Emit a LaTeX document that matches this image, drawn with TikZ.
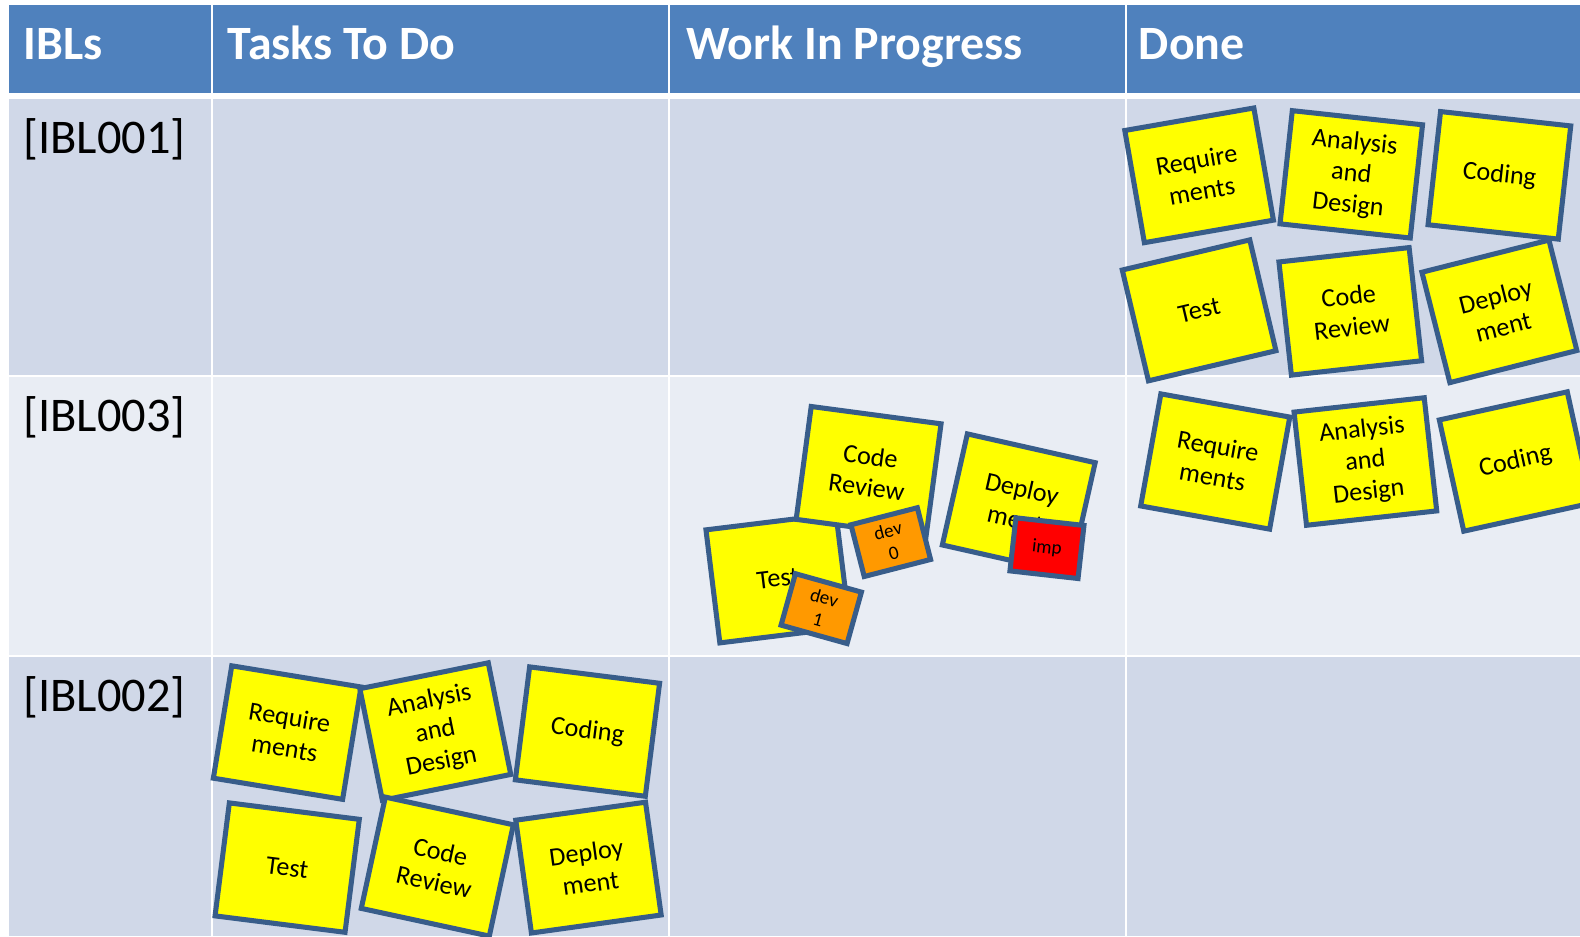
\documentclass[tikz,border=0pt]{standalone}
\usepackage{fontspec}
\setmainfont{Carlito}
\usetikzlibrary{positioning}
\definecolor{headblue}{RGB}{79,129,189}
\definecolor{rowdark}{RGB}{208,216,232}
\definecolor{rowlight}{RGB}{233,237,244}
\definecolor{noteline}{RGB}{56,93,138}
\definecolor{noteyellow}{RGB}{255,255,0}
\definecolor{tagorange}{RGB}{255,153,0}
\definecolor{tagred}{RGB}{255,0,0}

\begin{document}
\begin{tikzpicture}[
    x=1pt, y=-1pt,
    head/.style={anchor=base west, inner sep=0pt, text=white, font=\fontsize{47.5}{52}\selectfont\bfseries},
    ibl/.style={anchor=base west, inner sep=0pt, font=\fontsize{48}{53}\selectfont},
    note/.style={draw=noteline, fill=noteyellow, line width=5pt, minimum width=130pt, minimum height=113pt, inner sep=2pt, align=center, font=\fontsize{26}{31}\selectfont},
    tag/.style={note, minimum width=68pt, minimum height=53pt, font=\fontsize{19}{23}\selectfont}
]
    \useasboundingbox (0,0) rectangle (1568,929);
    \clip (0,0) rectangle (1568,929);
    \fill[white] (0,0) rectangle (1568,929);

    % Header row
    \fill[headblue] (9,5) rectangle (209,92);
    \fill[headblue] (211,5) rectangle (663,92);
    \fill[headblue] (665,5) rectangle (1116,92);
    \fill[headblue] (1118,5) rectangle (1568,92);
    \node[head] (hibl) at (23,59) {IBLs};
    \node[head] (htodo) at (226,59) {Tasks To Do};
    \node[head] (hwip) at (681,59) {Work In Progress};
    \node[head] (hdone) at (1130,59) {Done};

    % Body rows
    \foreach \xa/\xb in {9/209, 211/663, 665/1116, 1118/1568} {
        \fill[rowdark] (\xa,98) rectangle (\xb,372);
        \fill[rowlight] (\xa,374) rectangle (\xb,650);
        \fill[rowdark] (\xa,652) rectangle (\xb,929);
    }
    \node[ibl] (ibl1) at (23,152) {[IBL001]};
    \node[ibl] (ibl3) at (23,428) {[IBL003]};
    \node[ibl] (ibl2) at (23,706) {[IBL002]};

    % Done - IBL001
    \node[note, rotate=9.9] (dreq) at (1190,174) {Require\\ments};
    \node[note, rotate=-6.2] (dana) at (1341,173) {Analysis\\and\\Design};
    \node[note, rotate=-6.3] (dcod) at (1488,174) {Coding};
    \node[note, rotate=13.3] (dtst) at (1190,308) {Test};
    \node[note, rotate=6.3] (drev) at (1340,309) {Code\\Review};
    \node[note, rotate=14.2] (ddep) at (1488,309) {Deploy\\ment};

    % Done - IBL003
    \node[note, rotate=-10.2] (creq) at (1206,458) {Require\\ments};
    \node[note, rotate=6.3] (cana) at (1355,458) {Analysis\\and\\Design};
    \node[note, rotate=12.4] (ccod) at (1504,458) {Coding};

    % Work in progress - IBL003
    \node[note, rotate=7] (wtst) at (772,574) {Test};
    \node[note, rotate=-7.6] (wrev) at (862,468) {Code\\Review};
    \node[note, rotate=-12.7] (wdep) at (1011,500) {Deploy\\ment};
    \node[tag, fill=tagorange, rotate=14.4] (dev0) at (884,538) {dev\\0};
    \node[tag, fill=tagorange, rotate=-15.6] (dev1) at (815,604) {dev\\1};
    \node[tag, fill=tagred, rotate=-6.4] (imp) at (1039,544) {imp};

    % Tasks to do - IBL002
    \node[note, rotate=-9.3] (treq) at (285,727) {Require\\ments};
    \node[note, rotate=11.4] (tana) at (432,726) {Analysis\\and\\Design};
    \node[note, rotate=-7.2] (tcod) at (583,726) {Coding};
    \node[note, rotate=-7.2] (ttst) at (285,861) {Test};
    \node[note, rotate=-12.2] (trev) at (434,860) {Code\\Review};
    \node[note, rotate=7.9] (tdep) at (584,861) {Deploy\\ment};
\end{tikzpicture}
\end{document}
